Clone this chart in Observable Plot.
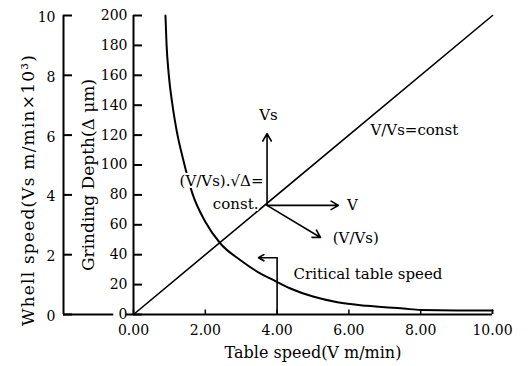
<!DOCTYPE html>
<html>
<head>
<meta charset="utf-8">
<script src="https://cdn.jsdelivr.net/npm/d3@7"></script>
<script src="https://cdn.jsdelivr.net/npm/@observablehq/plot@0.6"></script>
<style>
  html, body { margin: 0; padding: 0; background: #fff; }
  #chart svg { display: block; }
</style>
</head>
<body>
<div id="chart"></div>
<script>
// ---- data ----
const xTicks = [0, 2, 4, 6, 8, 10];
const yTicks = [0, 20, 40, 60, 80, 100, 120, 140, 160, 180, 200];
const wheelTicks = [0, 2, 4, 6, 8, 10];           // Whell speed (×10³)
const wheelToDepth = 20;                           // 10 ↔ 200

// curve (V/Vs)·√Δ = const
const curveV = [0.89, 0.92, 0.98, 1.08, 1.21, 1.38, 1.64, 2.0, 2.42, 3.0, 3.54, 3.82, 4.37, 5.0, 5.68, 6.5, 7.52, 8.0, 9.0, 10.0];
const curveD = [200, 181, 161, 141, 122, 104, 81, 62, 47.5, 36, 27.4, 24, 17.4, 12, 8.2, 5.8, 4.0, 3.0, 2.7, 2.7];

// straight line V/Vs = const
const lineV = [0, 10];
const lineD = [0, 200];

// vector origin and arrow ends
const origin = {V: 3.72, D: 73};
const arrowEnds = [
  {V: 3.72, D: 121},   // Vs
  {V: 5.71, D: 73},    // V
  {V: 5.21, D: 51.5}   // (V/Vs)
];
const critical = {V: 4.0, D: 38, arrowTo: 3.48};

const labelsMiddle = [
  {V: 3.76, D: 133, text: "Vs"}
];
const labelsStart = [
  {V: 5.95, D: 73, text: "V"},
  {V: 5.55, D: 51, text: "(V/Vs)"},
  {V: 6.60, D: 123, text: "V/Vs=const"},
  {V: 4.46, D: 27, text: "Critical table speed"}
];
const labelsEnd = [
  {V: 3.62, D: 89, text: "(V/Vs).√Δ="},
  {V: 3.48, D: 74, text: "const."}
];

const xTitle = "Table speed(V m/min)";
const yTitle = "Grinding Depth(Δ μm)";
const y2Title = "Whell speed(Vs m/min×10³)";

// ---- build ----
const curve = curveV.map((v, i) => ({V: v, D: curveD[i]}));
const straight = lineV.map((v, i) => ({V: v, D: lineD[i]}));
const arrows = arrowEnds.map(e => ({x1: origin.V, y1: origin.D, x2: e.V, y2: e.D}));
const font = "DejaVu Serif";
const OUT = -70;
const annot = {x: "V", y: "D", text: "text", fontSize: 15, stroke: "white", strokeWidth: 4, fill: "black"};

const chart = Plot.plot({
  width: 528,
  height: 366,
  marginLeft: 133,
  marginRight: 36,
  marginTop: 15,
  marginBottom: 52,
  x: {domain: [0, 10]},
  y: {domain: [0, 200]},
  style: {fontFamily: font, fontSize: "14px", color: "#000", background: "#fff"},
  marks: [
    // inner axis line + ticks
    Plot.ruleX([0], {y1: 0, y2: 200, strokeWidth: 2}),
    Plot.ruleY(yTicks, {x1: 0, x2: 0.25, strokeWidth: 2}),
    // outer axis line + ticks
    Plot.ruleX([0], {y1: 0, y2: 200, dx: OUT, strokeWidth: 2}),
    Plot.ruleY(wheelTicks.map(d => d * wheelToDepth), {x1: 0, x2: 0.25, dx: OUT, strokeWidth: 2}),
    Plot.ruleY([0], {x1: 0, x2: 1.4, dx: OUT, strokeWidth: 2}),
    // x axis line + ticks
    Plot.ruleY([0], {x1: -0.2, x2: 10, strokeWidth: 2}),
    Plot.ruleX(xTicks, {y1: 0, y2: 3, strokeWidth: 1.5}),
    Plot.ruleX([10], {y1: 0, y2: 2.7, strokeWidth: 1.5}),
    // tick labels
    Plot.axisY(yTicks, {tickSize: 0, tickPadding: 6}),
    Plot.text(wheelTicks, {x: 0, y: d => d * wheelToDepth, text: d => String(d), textAnchor: "end", dx: OUT - 8, dy: 2, fontSize: 14}),
    Plot.axisX(xTicks, {tickSize: 0, tickPadding: 11, tickFormat: d3.format(".2f"), fontSize: 14}),
    // titles
    Plot.text([xTitle], {frameAnchor: "bottom", textAnchor: "middle", dy: 43, fontSize: 16}),
    Plot.text([yTitle], {frameAnchor: "left", textAnchor: "middle", rotate: -90, dx: -45, dy: 10, fontSize: 17}),
    Plot.text([y2Title], {frameAnchor: "left", textAnchor: "middle", rotate: -90, dx: -105, dy: 25, fontSize: 17}),
    // data lines
    Plot.line(straight, {x: "V", y: "D", strokeWidth: 1.6}),
    Plot.line(curve, {x: "V", y: "D", curve: "monotone-x", strokeWidth: 2}),
    // vectors
    Plot.arrow(arrows, {x1: "x1", y1: "y1", x2: "x2", y2: "y2", headLength: 8, strokeWidth: 1.6}),
    Plot.ruleX([critical.V], {y1: 0, y2: critical.D, strokeWidth: 1.6}),
    Plot.arrow([critical], {x1: "V", y1: "D", x2: "arrowTo", y2: "D", headLength: 7, strokeWidth: 1.6}),
    // annotations
    Plot.text(labelsMiddle, {...annot, textAnchor: "middle"}),
    Plot.text(labelsStart, {...annot, textAnchor: "start"}),
    Plot.text(labelsEnd, {...annot, textAnchor: "end"})
  ]
});
// widen the spacing of the wheel-speed title, as in the reference typesetting
d3.select(chart).selectAll("text")
  .filter(function () { return this.textContent === y2Title; })
  .attr("letter-spacing", "1.2px");
document.getElementById("chart").appendChild(chart);
</script>
</body>
</html>
